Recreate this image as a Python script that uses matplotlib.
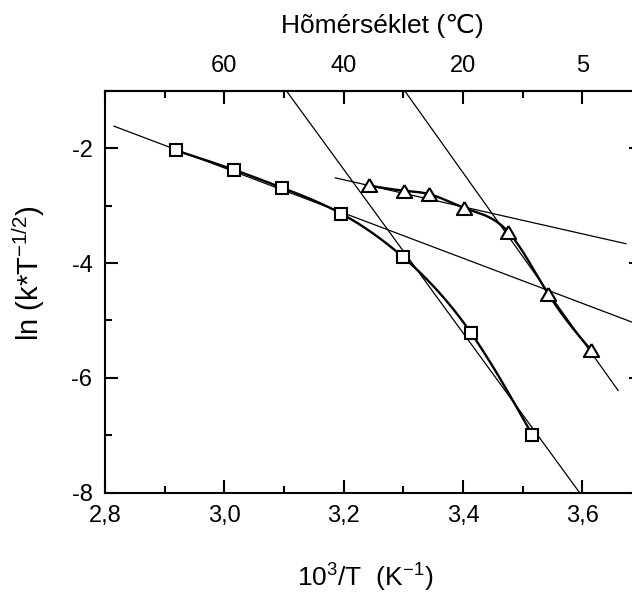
import numpy as np
import matplotlib.pyplot as plt
from matplotlib.ticker import MultipleLocator, FuncFormatter

plt.rcParams['font.family'] = ['Liberation Sans', 'DejaVu Sans']
plt.rcParams['mathtext.fontset'] = 'custom'
plt.rcParams['mathtext.rm'] = 'Liberation Sans'
plt.rcParams['mathtext.default'] = 'regular'
plt.rcParams['axes.unicode_minus'] = False

# 10^3/T and ln(k*T^-1/2) for the two series
sq_x = [2.919, 3.017, 3.097, 3.196, 3.300, 3.413, 3.516]
sq_y = [-2.04, -2.38, -2.69, -3.14, -3.90, -5.21, -6.99]
tr_x = [3.242, 3.301, 3.343, 3.402, 3.476, 3.543, 3.614]
tr_y = [-2.65, -2.74, -2.80, -3.04, -3.46, -4.54, -5.51]

# linear fits: x from, x to, slope, intercept
fit_x0 = [2.815, 3.08, 3.29, 3.186]
fit_x1 = [3.70, 3.62, 3.66, 3.673]
fit_slope = [-3.93, -14.24, -14.59, -2.355]
fit_icpt = [9.446, 43.20, 47.18, 4.986]

top_ticks = [3.0, 3.2, 3.4, 3.6]
top_labels = ['60', '40', '20', '5']


def spline(x, y, n=300):
    # natural cubic spline through the points
    x = np.asarray(x, float); y = np.asarray(y, float)
    h = np.diff(x); k = len(x)
    A = np.zeros((k, k)); b = np.zeros(k)
    A[0, 0] = A[-1, -1] = 1
    for i in range(1, k - 1):
        A[i, i - 1], A[i, i], A[i, i + 1] = h[i - 1], 2 * (h[i - 1] + h[i]), h[i]
        b[i] = 6 * ((y[i + 1] - y[i]) / h[i] - (y[i] - y[i - 1]) / h[i - 1])
    M = np.linalg.solve(A, b)
    xs = np.linspace(x[0], x[-1], n)
    i = np.clip(np.searchsorted(x, xs) - 1, 0, k - 2)
    t0, t1 = x[i + 1] - xs, xs - x[i]
    ys = (M[i] * t0**3 + M[i + 1] * t1**3) / (6 * h[i]) \
        + (y[i] / h[i] - M[i] * h[i] / 6) * t0 + (y[i + 1] / h[i] - M[i + 1] * h[i] / 6) * t1
    return xs, ys


fig = plt.figure(figsize=(6.32, 5.93), dpi=100)
ax = fig.add_axes([0.1661, 0.1691, 0.8497, 0.6779])

for x0, x1, m, c in zip(fit_x0, fit_x1, fit_slope, fit_icpt):
    xx = np.array([x0, x1])
    ax.plot(xx, m * xx + c, color='black', lw=0.9, zorder=2)

for xs, ys in (spline(sq_x, sq_y), spline(tr_x, tr_y)):
    ax.plot(xs, ys, color='black', lw=1.7, zorder=3)

tri = [(0, 0.85), (-1, -0.85), (1, -0.85), (0, 0.85)]
ax.plot(sq_x, sq_y, ls='none', marker='s', ms=9, mew=1.5, mec='black', mfc='white', zorder=4)
ax.plot(tr_x, tr_y, ls='none', marker=tri, ms=11, mew=1.5, mec='black', mfc='white', zorder=4)

ax.set_xlim(2.8, 3.7)
ax.set_ylim(-8, -1)
ax.xaxis.set_major_locator(MultipleLocator(0.2))
ax.xaxis.set_minor_locator(MultipleLocator(0.1))
ax.yaxis.set_major_locator(MultipleLocator(2))
ax.yaxis.set_minor_locator(MultipleLocator(1))
ax.xaxis.set_major_formatter(FuncFormatter(lambda v, _: f'{v:.1f}'.replace('.', ',')))
ax.yaxis.set_major_formatter(FuncFormatter(lambda v, _: f'{v:.0f}'))
ax.tick_params(which='both', direction='in', width=1.5, labelsize=17, right=True, top=False)
ax.tick_params(which='major', length=9.5)
ax.tick_params(which='minor', length=5)
ax.tick_params(axis='x', pad=9)
ax.tick_params(axis='y', pad=9)
for s in ax.spines.values():
    s.set_linewidth(1.5)

top = ax.secondary_xaxis('top')
top.set_xticks(top_ticks, top_labels)
top.xaxis.set_minor_locator(MultipleLocator(0.1))
top.tick_params(which='both', direction='in', width=1.5, labelsize=17, pad=10)
top.tick_params(which='major', length=9.5)
top.tick_params(which='minor', length=5)
top.spines['top'].set_linewidth(1.5)
fig.text(0.605, 0.957, 'Hõmérséklet (℃)', fontsize=19, ha='center', va='center')

ax.set_xlabel('10$^3$/T  (K$^{-1}$)', fontsize=19)
ax.xaxis.set_label_coords(0.484, -0.172)
ax.set_ylabel('ln (k*T$^{-1/2}$)', fontsize=21)
ax.yaxis.set_label_coords(-0.108, 0.545)

fig.savefig('out.png', dpi=100)
